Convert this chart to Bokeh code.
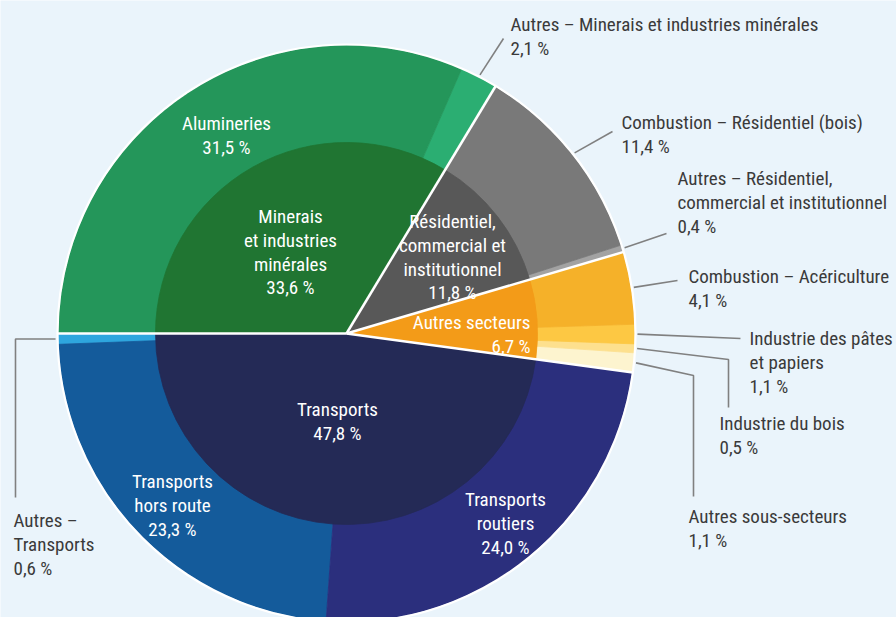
import math
from bokeh.plotting import figure
from bokeh.models import Range1d
from bokeh.embed import file_html
from bokeh.resources import INLINE
from bokeh.core.properties import value

# ---------------- data ----------------
sectors = ["Transports", "Autres secteurs",
           "Résidentiel, commercial et institutionnel",
           "Minerais et industries minérales"]
sector_values = [47.8, 6.7, 11.8, 33.6]
sector_colors = ["#242a56", "#f39b18", "#585858", "#207532"]

sub_transports = ["Autres – Transports", "Transports hors route", "Transports routiers"]
sub_transports_values = [0.6, 23.3, 24.0]
sub_transports_colors = ["#2ea6de", "#145b9b", "#2b2f7d"]

sub_autres = ["Autres sous-secteurs", "Industrie du bois",
              "Industrie des pâtes et papiers", "Combustion – Acériculture"]
sub_autres_values = [1.1, 0.5, 1.1, 4.1]
sub_autres_colors = ["#fdf4cf", "#fde08e", "#fdc843", "#f5b129"]

sub_resid = ["Autres – Résidentiel, commercial et institutionnel",
             "Combustion – Résidentiel (bois)"]
sub_resid_values = [0.4, 11.4]
sub_resid_colors = ["#a2a2a2", "#797979"]

sub_miner = ["Autres – Minerais et industries minérales", "Alumineries"]
sub_miner_values = [2.1, 31.5]
sub_miner_colors = ["#2bae72", "#24965a"]

subs = [(sub_transports, sub_transports_values, sub_transports_colors),
        (sub_autres, sub_autres_values, sub_autres_colors),
        (sub_resid, sub_resid_values, sub_resid_colors),
        (sub_miner, sub_miner_values, sub_miner_colors)]

# ---------------- layout ----------------
BG = "#eaf4fb"
FONT = "Roboto Condensed, Liberation Sans Narrow, sans-serif"
FS = "19px"
TXT = "#3a3a3a"
LEAD = "#808080"
W, H = 896, 617

def Y(y):  # reference pixel row -> data y (up)
    return H - y

CX, CY = 346, Y(333)
R_OUT, R_IN = 288, 191

p = figure(width=W, height=H, output_backend="svg", toolbar_location=None,
           x_range=Range1d(0, W), y_range=Range1d(0, H), min_border=0)
p.axis.visible = False
p.grid.visible = False
p.outline_line_color = None
p.background_fill_color = BG
p.border_fill_color = BG

total = sum(sector_values)
start = math.pi
in_s, in_e = [], []
out_s, out_e, out_c = [], [], []
mid = {}
for val, (names, vals, cols) in zip(sector_values, subs):
    span = val / total * 2 * math.pi
    in_s.append(start)
    in_e.append(start + span)
    sub_tot = sum(vals)
    a = start
    for n, v, c in zip(names, vals, cols):
        s = span * v / sub_tot
        out_s.append(a)
        out_e.append(a + s)
        out_c.append(c)
        mid[n] = a + s / 2
        a += s
    start += span

p.annular_wedge(x=CX, y=CY, inner_radius=R_IN - 3, outer_radius=R_OUT,
                start_angle=out_s, end_angle=out_e, fill_color=out_c,
                line_color=out_c, line_width=0.8)
p.wedge(x=CX, y=CY, radius=R_IN, start_angle=in_s, end_angle=in_e,
        fill_color=sector_colors, line_color=sector_colors, line_width=0.8)

# white separators between main sectors + outer white rim
bx0, by0, bx1, by1 = [], [], [], []
for a in in_s:
    bx0.append(CX); by0.append(CY)
    bx1.append(CX + (R_OUT + 1) * math.cos(a))
    by1.append(CY + (R_OUT + 1) * math.sin(a))
p.segment(x0=bx0, y0=by0, x1=bx1, y1=by1, line_color="white", line_width=2.5)
p.circle(x=CX, y=CY, radius=R_OUT + 1, fill_color=None, line_color="white", line_width=2.2)

# ---------------- leader lines + outer labels ----------------
outer_labels = [
    ("Autres – Minerais et industries minérales", [(503, 38)], 510, 24,
     ["Autres – Minerais et industries minérales", "2,1 %"]),
    ("Combustion – Résidentiel (bois)", [(612, 131)], 621, 122,
     ["Combustion – Résidentiel (bois)", "11,4 %"]),
    ("Autres – Résidentiel, commercial et institutionnel", [(666, 233)], 677, 178,
     ["Autres – Résidentiel,", "commercial et institutionnel", "0,4 %"]),
    ("Combustion – Acériculture", [(677, 280)], 688, 276,
     ["Combustion – Acériculture", "4,1 %"]),
    ("Industrie des pâtes et papiers", [(740, 338)], 749, 338,
     ["Industrie des pâtes", "et papiers", "1,1 %"]),
    ("Industrie du bois", [(728, 359), (728, 407)], 719, 423,
     ["Industrie du bois", "0,5 %"]),
    ("Autres sous-secteurs", [(693, 375), (693, 496)], 688, 516,
     ["Autres sous-secteurs", "1,1 %"]),
    ("Autres – Transports", [("h", 15), (15, 497)], 13, 520,
     ["Autres –", "Transports", "0,6 %"]),
]
LH = 23.8
for name, path, tx, ty, lines in outer_labels:
    a = mid[name]
    x0 = CX + (R_OUT + 3) * math.cos(a)
    y0 = CY + (R_OUT + 3) * math.sin(a)
    xs, ys = [x0], [y0]
    for pt in path:
        if pt[0] == "h":
            xs.append(pt[1]); ys.append(y0)
        else:
            xs.append(pt[0]); ys.append(Y(pt[1]))
    p.line(x=xs, y=ys, line_color=LEAD, line_width=1.6)
    p.text(x=[tx] * len(lines), y=[Y(ty + i * LH) for i in range(len(lines))],
           text=lines, text_font=value(FONT), text_font_size=FS,
           text_color=TXT, text_align="left", text_baseline="middle")

# ---------------- inner labels (white) ----------------
inner_labels = [
    (226, 123, "center", ["Alumineries", "31,5 %"]),
    (290, 216, "center", ["Minerais", "et industries", "minérales", "33,6 %"]),
    (452, 221, "center", ["Résidentiel,", "commercial et", "institutionnel", "11,8 %"]),
    (530, 322, "right", ["Autres secteurs", "6,7 %"]),
    (337, 409, "center", ["Transports", "47,8 %"]),
    (172, 481, "center", ["Transports", "hors route", "23,3 %"]),
    (505, 499, "center", ["Transports", "routiers", "24,0 %"]),
]
for tx, ty, al, lines in inner_labels:
    p.text(x=[tx] * len(lines), y=[Y(ty + i * LH) for i in range(len(lines))],
           text=lines, text_font=value(FONT), text_font_size=FS,
           text_color="white", text_align=al, text_baseline="middle")

open("out.html", "w").write(file_html(p, INLINE))
